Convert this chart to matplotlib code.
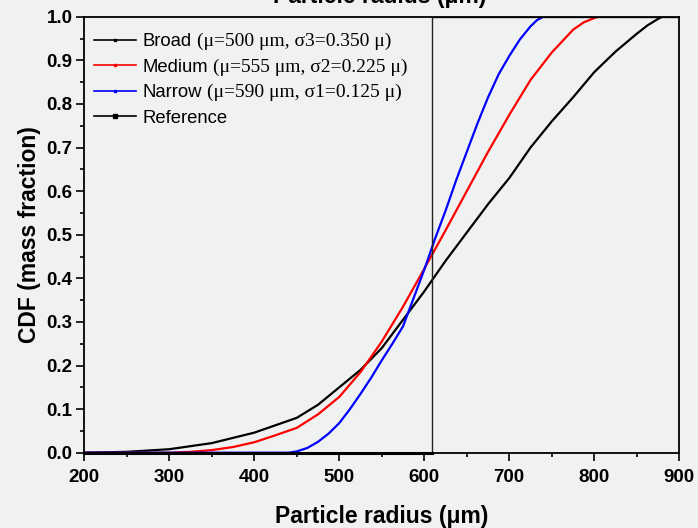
import matplotlib
matplotlib.use("Agg")
import matplotlib.pyplot as plt
from matplotlib.lines import Line2D
from matplotlib.ticker import MultipleLocator

# ---- data ----
broad_x = [200, 250, 300, 350, 400, 425, 450, 475, 500, 525, 550, 575, 600, 625, 650,
           675, 700, 725, 750, 775, 800, 825, 850, 862.5, 875, 880, 900]
broad_y = [0.0, 0.002, 0.008, 0.022, 0.046, 0.063, 0.08, 0.11, 0.15, 0.19, 0.24, 0.305,
           0.37, 0.44, 0.505, 0.57, 0.63, 0.70, 0.76, 0.815, 0.873, 0.92, 0.961, 0.98,
           0.995, 1.0, 1.0]

medium_x = [200, 300, 325, 350, 375, 400, 425, 450, 475, 500, 525, 550, 575, 600, 625,
            650, 675, 700, 725, 750, 775, 787.5, 800, 805, 900]
medium_y = [0.0, 0.0, 0.002, 0.006, 0.013, 0.024, 0.04, 0.057, 0.088, 0.128, 0.185, 0.255,
            0.335, 0.422, 0.51, 0.60, 0.69, 0.775, 0.855, 0.918, 0.97, 0.987, 0.997, 1.0, 1.0]

narrow_x = [200, 440, 450, 462.5, 475, 487.5, 500, 512.5, 525, 537.5, 550, 562.5, 575,
            587.5, 600, 612.5, 625, 637.5, 650, 662.5, 675, 687.5, 700, 712.5, 725,
            732.5, 740, 900]
narrow_y = [0.0, 0.0, 0.003, 0.011, 0.025, 0.044, 0.068, 0.1, 0.135, 0.172, 0.212, 0.25,
            0.29, 0.355, 0.42, 0.49, 0.555, 0.625, 0.69, 0.755, 0.815, 0.868, 0.91,
            0.948, 0.978, 0.992, 1.0, 1.0]

ref_x = [200, 609, 609, 900]
ref_y = [0.0, 0.0, 1.0, 1.0]

names = ["Broad", "Medium", "Narrow", "Reference"]
details = ["(\u03bc=500 \u03bcm, \u03c33=0.350 \u03bc)",
           "(\u03bc=555 \u03bcm, \u03c32=0.225 \u03bc)",
           "(\u03bc=590 \u03bcm, \u03c31=0.125 \u03bc)",
           ""]
colors = ["black", "red", "blue", "black"]

xticks = [200, 300, 400, 500, 600, 700, 800, 900]
yticks = [0.0, 0.1, 0.2, 0.3, 0.4, 0.5, 0.6, 0.7, 0.8, 0.9, 1.0]

# ---- figure ----
bg = "#eff2f1"
W, H = 698, 528
fig = plt.figure(figsize=(W / 100, H / 100), dpi=100, facecolor=bg)
ax = fig.add_axes([84.3 / W, 1 - 452.7 / H, (679.3 - 84.3) / W, (452.7 - 16.7) / H])
ax.set_facecolor(bg)

sans = "Liberation Sans"
serif = "Liberation Serif"

ax.plot(broad_x, broad_y, color=colors[0], lw=1.6)
ax.plot(medium_x, medium_y, color=colors[1], lw=1.6)
ax.plot(narrow_x, narrow_y, color=colors[2], lw=1.6)
ax.plot(ref_x, ref_y, color="#222222", lw=1.0)
ax.plot([200, 609], [0, 0], color="black", lw=2.2, clip_on=False, zorder=3)

ax.set_xlim(200, 900)
ax.set_ylim(0, 1.0)
ax.set_xticks(xticks)
ax.set_yticks(yticks)
ax.set_xticklabels([str(v) for v in xticks])
ax.set_yticklabels([f"{v:.1f}" for v in yticks])
ax.xaxis.set_minor_locator(MultipleLocator(50))
ax.yaxis.set_minor_locator(MultipleLocator(0.05))
ax.tick_params(axis="both", which="major", direction="out", length=5.5, width=1.2,
               labelsize=13.5, top=False, right=False)
ax.tick_params(axis="x", which="major", pad=6)
ax.tick_params(axis="y", which="major", pad=3)
ax.tick_params(axis="both", which="minor", direction="out", length=3, width=1.2,
               top=False, right=False)
for lab in ax.get_xticklabels() + ax.get_yticklabels():
    lab.set_fontfamily(sans)
    lab.set_fontweight("bold")
for sp in ax.spines.values():
    sp.set_linewidth(1.3)

ax.set_xlabel("Particle radius (\u03bcm)", fontsize=16.5, fontweight="bold",
              family=sans, labelpad=14)
ax.set_ylabel("CDF (mass fraction)", fontsize=16.5, fontweight="bold",
              family=sans, labelpad=4)

# clipped top axis title
fig.text(380 / W, 1 - 3 / H, "Particle radius (\u03bcm)", fontsize=16.5,
         fontweight="bold", family=sans, ha="center", va="baseline")

# legend
handles = []
for i, c in enumerate(colors):
    if i < 3:
        handles.append(Line2D([], [], color=c, lw=1.2, marker="s", markersize=1.8))
    else:
        handles.append(Line2D([], [], color=c, lw=1.2, marker="s", markersize=3.2))
leg = ax.legend(handles, names, loc="upper left", frameon=False,
                prop={"family": sans, "size": 13.3}, handlelength=2.3,
                handletextpad=0.33, labelspacing=0.46,
                bbox_to_anchor=(0.0, 0.984), borderaxespad=0.12)

fig.canvas.draw()
renderer = fig.canvas.get_renderer()
for t, d in zip(leg.get_texts(), details):
    if not d:
        continue
    bb = t.get_window_extent(renderer)
    fig.text((bb.x1 + 5) / W, bb.y0 / H, d, fontsize=14, family=serif,
             ha="left", va="bottom")

fig.savefig("out.png", dpi=100, facecolor=bg)
